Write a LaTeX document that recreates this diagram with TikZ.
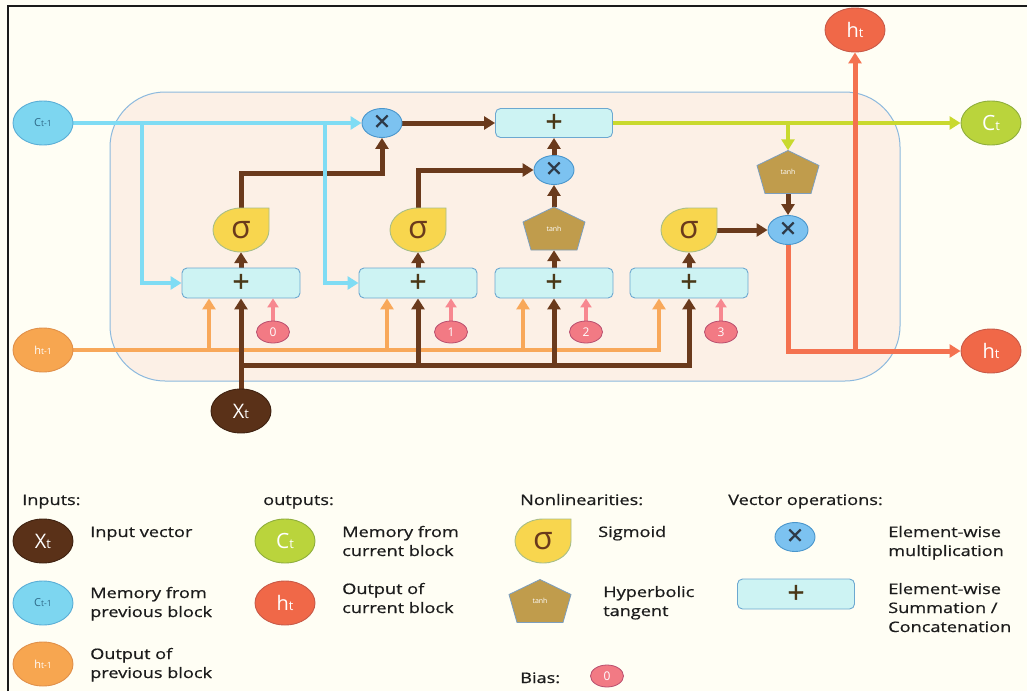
\documentclass[tikz,border=0pt]{standalone}
\usepackage{fontspec}
\setmainfont{Open Sans}
\usetikzlibrary{arrows.meta,shapes.geometric}

\definecolor{bgcream}{HTML}{FFFEF4}
\definecolor{framegray}{HTML}{1A1A1A}
\definecolor{cellfill}{HTML}{FCF0E6}
\definecolor{cellline}{HTML}{8CB9DE}
\definecolor{cyanline}{HTML}{7FDCF4}
\definecolor{cprevfill}{HTML}{7DD6F0}
\definecolor{cprevline}{HTML}{5AAED6}
\definecolor{cprevtext}{HTML}{2F6A88}
\definecolor{brownline}{HTML}{6A3A1C}
\definecolor{xtfill}{HTML}{5A3118}
\definecolor{orangeline}{HTML}{F8A85A}
\definecolor{hprevfill}{HTML}{F7A650}
\definecolor{hprevline}{HTML}{E0904A}
\definecolor{greenline}{HTML}{C9D92E}
\definecolor{ctfill}{HTML}{BAD43C}
\definecolor{ctline}{HTML}{8FAE3C}
\definecolor{redline}{HTML}{F47250}
\definecolor{htfill}{HTML}{F06848}
\definecolor{htline}{HTML}{C85A48}
\definecolor{mulfill}{HTML}{7CC2F0}
\definecolor{mulline}{HTML}{4A96CC}
\definecolor{multext}{HTML}{2E3A48}
\definecolor{sumfill}{HTML}{CDF3F3}
\definecolor{sumline}{HTML}{6CA8D0}
\definecolor{sumtext}{HTML}{4A3818}
\definecolor{sigfill}{HTML}{F8D64E}
\definecolor{sigline}{HTML}{A9BE86}
\definecolor{tanhfill}{HTML}{C09C4C}
\definecolor{tanhline}{HTML}{7D9FBF}
\definecolor{biasfill}{HTML}{F27A84}
\definecolor{biasline}{HTML}{B84E6E}
\definecolor{biasarrow}{HTML}{F78890}
\definecolor{legtext}{HTML}{1C1C1C}

\pgfdeclarelayer{bglayer}
\pgfdeclarelayer{edges}
\pgfsetlayers{bglayer,edges,main}

% small helper: big letter followed by a smaller index
\newcommand\twolevel[4]{{\fontsize{#1}{#1}\selectfont #3}{\fontsize{#2}{#2}\selectfont #4}}

% sigmoid gate: drop shape with a square top-right corner
\newcommand\sigmagate[3]{%
  \path[sigbody] (#2,#3) ++(0,-22) -- ++(28,0) -- ++(0,22)
    arc[start angle=0,end angle=270,x radius=28,y radius=22] -- cycle;
  \node[sigbox] (#1) at (#2,#3) {σ};
}
% tanh gate: flattened pentagon
\newcommand\tanhgate[3]{%
  \path[tanhbody] (#2,#3) ++(0,-21.5) -- ++(31,15) -- ++(-8,28) -- ++(-46,0) -- ++(-8,-28) -- cycle;
  \node[tanhbox] (#1) at (#2,#3) {tanh};
}

\tikzset{
  flowtip/.style={-{Triangle[length=11pt,width=13pt]}},
  cyanflow/.style={draw=cyanline, line width=4pt},
  brownflow/.style={draw=brownline, line width=5pt},
  orangeflow/.style={draw=orangeline, line width=4pt},
  greenflow/.style={draw=greenline, line width=4.5pt},
  redflow/.style={draw=redline, line width=5pt},
  biasflow/.style={draw=biasarrow, line width=3.5pt, -{Triangle[length=9pt,width=11pt]}},
  portnode/.style={ellipse, minimum width=60pt, minimum height=44pt, inner sep=0pt, line width=0.9pt},
  cprevnode/.style={portnode, fill=cprevfill, draw=cprevline, text=cprevtext},
  hprevnode/.style={portnode, fill=hprevfill, draw=hprevline, text=white},
  xinnode/.style={portnode, fill=xtfill, draw=xtfill!70!black, text=white},
  coutnode/.style={portnode, fill=ctfill, draw=ctline, text=white},
  houtnode/.style={portnode, fill=htfill, draw=htline, text=white},
  mulop/.style={ellipse, fill=mulfill, draw=mulline, line width=0.9pt, minimum width=40pt, minimum height=29pt, inner sep=0pt, text=multext, font=\fontsize{28}{28}\selectfont\addfontfeature{FakeBold=1}},
  sumop/.style={rectangle, rounded corners=5pt, fill=sumfill, draw=sumline, line width=0.9pt, minimum width=118pt, minimum height=30pt, inner sep=0pt, text=sumtext, font=\fontsize{30}{30}\selectfont\addfontfeature{FakeBold=1}},
  sigbody/.style={fill=sigfill, draw=sigline, line width=0.9pt},
  sigbox/.style={rectangle, minimum width=56pt, minimum height=44pt, inner sep=0pt, text=brownline, font=\fontsize{32}{32}\selectfont},
  tanhbody/.style={fill=tanhfill, draw=tanhline, line width=0.8pt},
  tanhbox/.style={rectangle, minimum width=62pt, minimum height=43pt, inner sep=0pt, text=white, font=\fontsize{7}{7}\selectfont},
  biasnode/.style={ellipse, fill=biasfill, draw=biasline, line width=0.8pt, minimum width=33pt, minimum height=22pt, inner sep=0pt, text=white, font=\fontsize{12}{12}\selectfont},
  legtextstyle/.style={anchor=base west, align=left, text=legtext, font=\fontsize{14.5}{19}\selectfont\addfontfeature{FakeBold=0.6}, xscale=1.25, inner sep=0pt},
  cellbox/.style={rectangle, rounded corners=55pt, fill=cellfill, draw=cellline, line width=1pt, minimum width=790pt, minimum height=289pt},
}

\begin{document}
\begin{tikzpicture}[x=1pt,y=-1pt]
\useasboundingbox (0,0) rectangle (1027,691);
\begin{pgfonlayer}{bglayer}
  \fill[bgcream] (0,0) rectangle (1027,691);
  \draw[line width=2.5pt, framegray] (8,691) -- (8,6) -- (1027,6);
  \node[cellbox] (cell) at (505,236.5) {};
\end{pgfonlayer}

% ---------- inputs and outputs ----------
\node[cprevnode] (cprev) at (43,123) {\twolevel{11}{8.5}{C}{t-1}};
\node[hprevnode] (hprev) at (43,350) {\twolevel{11}{8.5}{h}{t-1}};
\node[xinnode] (xt) at (241,411) {\twolevel{20}{13}{X}{t}};
\node[coutnode] (ct) at (991,123) {\twolevel{21}{13}{C}{t}};
\node[houtnode] (htop) at (855,30) {\twolevel{20}{13}{h}{t}};
\node[houtnode] (hright) at (991,351) {\twolevel{20}{13}{h}{t}};

% ---------- operations ----------
\node[mulop] (x1) at (382,123) {×};
\node[mulop] (x2) at (554,170) {×};
\node[mulop] (x3) at (788,230) {×};
\node[sumop, minimum width=117pt, minimum height=29pt] (bt) at (554,123) {+};
\node[sumop] (b1) at (241,283) {+};
\node[sumop] (b2) at (418,283) {+};
\node[sumop] (b3) at (554,283) {+};
\node[sumop] (b4) at (689,283) {+};

\sigmagate{s1}{241}{230}
\sigmagate{s2}{418}{230}
\sigmagate{s3}{689}{230}
\tanhgate{t1}{554}{228.5}
\tanhgate{t2}{788}{172}

\node[biasnode] (bias0) at (273,332) {0};
\node[biasnode] (bias1) at (451,332) {1};
\node[biasnode] (bias2) at (586,332) {2};
\node[biasnode] (bias3) at (721,332) {3};

% ---------- junction points ----------
\coordinate (cj1) at (142,123);
\coordinate (cj2) at (325,123);
\coordinate (k1) at (241,173);
\coordinate (o1) at (209,350);
\coordinate (o2) at (387,350);
\coordinate (o3) at (523,350);
\coordinate (o4) at (659,350);
\coordinate (xj1) at (241,365);
\coordinate (xj2) at (418,365);
\coordinate (xj3) at (554,365);
\coordinate (gj) at (788,123);
\coordinate (rj) at (855,351);

% ---------- connectors ----------
\begin{pgfonlayer}{edges}
  % previous output
  \draw[orangeflow, flowtip] (hprev.east) -- (o4) -- (o4 |- b4.south);
  \draw[orangeflow, flowtip] (o1) -- (o1 |- b1.south);
  \draw[orangeflow, flowtip] (o2) -- (o2 |- b2.south);
  \draw[orangeflow, flowtip] (o3) -- (o3 |- b3.south);
  % input vector
  \draw[brownflow, flowtip] (xt.north) -- (b1.south);
  \draw[brownflow, flowtip] (xj1) -| (b4.south);
  \draw[brownflow, flowtip] (xj2) -- (b2.south);
  \draw[brownflow, flowtip] (xj3) -- (b3.south);
  % biases
  \draw[biasflow] (bias0.north) -- (bias0.north |- b1.south);
  \draw[biasflow] (bias1.north) -- (bias1.north |- b2.south);
  \draw[biasflow] (bias2.north) -- (bias2.north |- b3.south);
  \draw[biasflow] (bias3.north) -- (bias3.north |- b4.south);
  % gates
  \draw[brownflow, flowtip] (b1.north) -- (s1.south);
  \draw[brownflow, flowtip] (b2.north) -- (s2.south);
  \draw[brownflow, flowtip] (b3.north) -- (t1.south);
  \draw[brownflow, flowtip] (b4.north) -- (s3.south);
  \draw[brownflow, flowtip] (t1.north) -- (x2.south);
  \draw[brownflow, flowtip] (x2.north) -- (bt.south);
  \draw[brownflow, flowtip] (s1.north) -- (k1) -| (x1.south);
  \draw[brownflow, flowtip] (s2.north) |- (x2.west);
  \draw[brownflow, flowtip] (x1.east) -- (bt.west);
  \draw[brownflow, flowtip] (s3.east) -- (x3.west);
  \draw[brownflow, flowtip] (t2.south) -- (x3.north);
  % previous memory
  \draw[cyanflow, flowtip] (cprev.east) -- (x1.west);
  \draw[cyanflow, flowtip] (cj1) |- (b1.west);
  \draw[cyanflow, flowtip] (cj2) |- (b2.west);
  % current memory
  \draw[greenflow, flowtip] (bt.east) -- (ct.west);
  \draw[greenflow, flowtip] (gj) -- (t2.north);
  % current output
  \draw[redflow, flowtip] (x3.south) |- (hright.west);
  \draw[redflow, flowtip] (rj) -- (htop.south);
\end{pgfonlayer}

% ---------- legend (multi-line labels are placed by their last baseline) ----------
\node[legtextstyle] (hin) at (22,505) {Inputs:};
\node[legtextstyle] (hout) at (263,505) {outputs:};
\node[legtextstyle] (hnl) at (520,505) {Nonlinearities:};
\node[legtextstyle] (hvo) at (728,505) {Vector operations:};

\node[xinnode] (lxt) at (43,541) {\twolevel{20}{13}{X}{t}};
\node[legtextstyle] (lxttext) at (90,537) {Input vector};
\node[cprevnode] (lcprev) at (43,603) {\twolevel{11}{8.5}{C}{t-1}};
\node[legtextstyle] (lcprevtext) at (90,617) {Memory from\\previous block};
\node[hprevnode] (lhprev) at (43,664) {\twolevel{11}{8.5}{h}{t-1}};
\node[legtextstyle] (lhprevtext) at (90,678) {Output of\\previous block};

\node[coutnode] (lct) at (285,541) {\twolevel{21}{13}{C}{t}};
\node[legtextstyle] (lcttext) at (342,556) {Memory from\\current block};
\node[houtnode] (lht) at (285,603) {\twolevel{20}{13}{h}{t}};
\node[legtextstyle] (lhttext) at (342,613) {Output of\\current block};

\sigmagate{lsig}{543}{541}
\node[legtextstyle] (lsigtext) at (598,537) {Sigmoid};
\tanhgate{ltanh}{540}{601}
\node[legtextstyle] (ltanhtext) at (603,616) {Hyperbolic\\tangent};

\node[mulop] (lmul) at (795,537) {×};
\node[legtextstyle] (lmultext) at (888,556) {Element-wise\\multiplication};
\node[sumop, minimum width=117pt] (lsum) at (796,594) {+};
\node[legtextstyle] (lsumtext) at (888,632) {Element-wise\\Summation /\\Concatenation};

\node[legtextstyle] (lbiastext) at (520,683) {Bias:};
\node[biasnode] (lbias) at (607,676) {0};
\end{tikzpicture}
\end{document}
